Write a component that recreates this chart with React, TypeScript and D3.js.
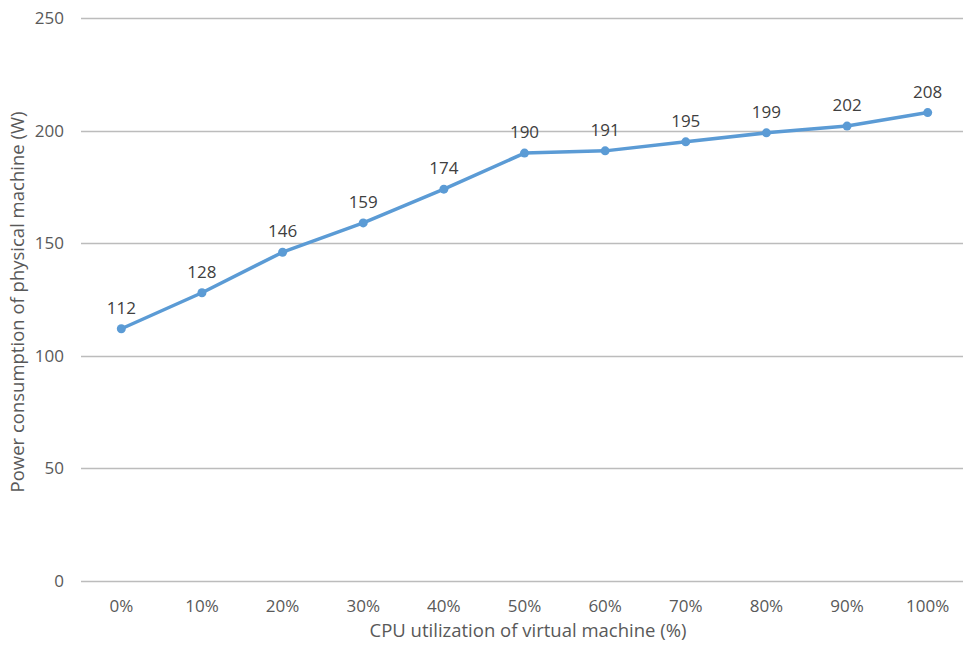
import React, { useEffect, useRef } from "react";
import * as d3 from "d3";

const categories = ["0%", "10%", "20%", "30%", "40%", "50%", "60%", "70%", "80%", "90%", "100%"];
const power = [112, 128, 146, 159, 174, 190, 191, 195, 199, 202, 208];
const yTicks = [0, 50, 100, 150, 200, 250];

export default function App() {
  const ref = useRef<SVGSVGElement>(null);

  useEffect(() => {
    const width = 963;
    const height = 646;
    const margin = { top: 18, right: -5, bottom: 65, left: 81 };
    const font = "'Open Sans', sans-serif";

    const svg = d3.select(ref.current);
    svg.selectAll("*").remove();

    const x = d3
      .scaleBand()
      .domain(categories)
      .range([margin.left, width - margin.right]);
    const y = d3
      .scaleLinear()
      .domain([0, 250])
      .range([height - margin.bottom, margin.top]);

    // gridlines
    svg
      .append("g")
      .selectAll("line")
      .data(yTicks)
      .enter()
      .append("line")
      .attr("x1", margin.left)
      .attr("x2", width)
      .attr("y1", (d) => Math.round(y(d)) + 0.5)
      .attr("y2", (d) => Math.round(y(d)) + 0.5)
      .attr("stroke", "#bcbcbc")
      .attr("stroke-width", 1.4);

    // y tick labels
    svg
      .append("g")
      .selectAll("text")
      .data(yTicks)
      .enter()
      .append("text")
      .attr("x", 64)
      .attr("y", (d) => y(d))
      .attr("dy", "0.35em")
      .attr("text-anchor", "end")
      .style("font-family", font)
      .style("font-size", "17px")
      .attr("fill", "#595959")
      .text((d) => d);

    // x tick labels
    svg
      .append("g")
      .selectAll("text")
      .data(categories)
      .enter()
      .append("text")
      .attr("x", (d) => x(d)! + x.bandwidth() / 2)
      .attr("y", 606)
      .attr("dy", "0.35em")
      .attr("text-anchor", "middle")
      .style("font-family", font)
      .style("font-size", "17px")
      .attr("fill", "#595959")
      .text((d) => d);

    // axis titles
    svg
      .append("text")
      .attr("x", 528)
      .attr("y", 631)
      .attr("dy", "0.35em")
      .attr("text-anchor", "middle")
      .style("font-family", font)
      .style("font-size", "18.5px")
      .attr("fill", "#595959")
      .text("CPU utilization of virtual machine (%)");

    svg
      .append("text")
      .attr("transform", "translate(18,302) rotate(-90)")
      .attr("dy", "0.35em")
      .attr("text-anchor", "middle")
      .style("font-family", font)
      .style("font-size", "18.5px")
      .attr("fill", "#595959")
      .text("Power consumption of physical machine (W)");

    const cx = (i: number) => x(categories[i])! + x.bandwidth() / 2;

    // line
    const line = d3
      .line<number>()
      .x((d, i) => cx(i))
      .y((d) => y(d));
    svg
      .append("path")
      .datum(power)
      .attr("d", line)
      .attr("fill", "none")
      .attr("stroke", "#5b9bd5")
      .attr("stroke-width", 3.5)
      .attr("stroke-linejoin", "round");

    // markers
    svg
      .append("g")
      .selectAll("circle")
      .data(power)
      .enter()
      .append("circle")
      .attr("cx", (d, i) => cx(i))
      .attr("cy", (d) => y(d))
      .attr("r", 4.5)
      .attr("fill", "#5b9bd5");

    // data labels
    svg
      .append("g")
      .selectAll("text")
      .data(power)
      .enter()
      .append("text")
      .attr("x", (d, i) => cx(i))
      .attr("y", (d) => y(d) - 21)
      .attr("dy", "0.35em")
      .attr("text-anchor", "middle")
      .style("font-family", font)
      .style("font-size", "17px")
      .attr("fill", "#404040")
      .text((d) => d);
  }, []);

  return (
    <svg
      ref={ref}
      width={963}
      height={646}
      style={{ position: "absolute", left: 0, top: 0, background: "#fff" }}
    />
  );
}
